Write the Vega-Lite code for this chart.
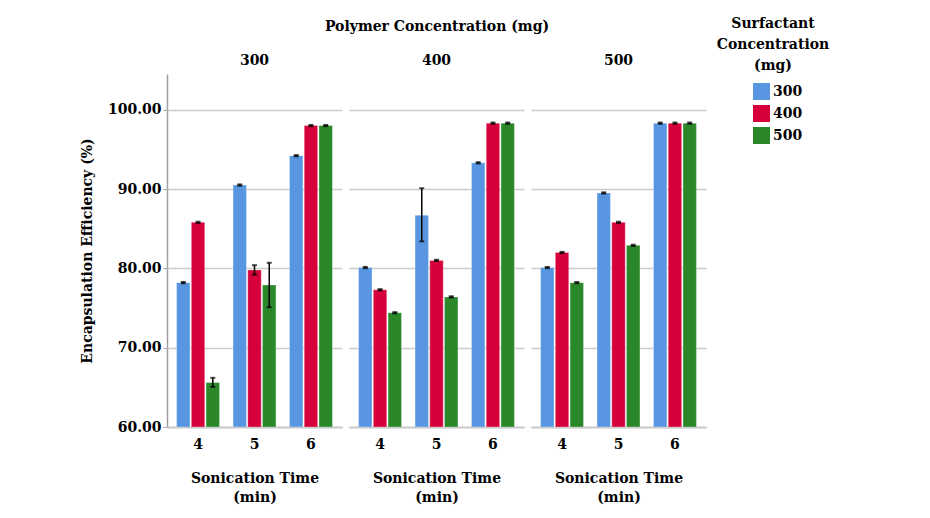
{
  "$schema": "https://vega.github.io/schema/vega-lite/v6.json",
  "padding": {"left": 80, "top": 17, "right": 5, "bottom": 5},
  "background": "white",
  "data": {
    "values": [
      {"polymer": "300", "time": "4", "surfactant": "300", "value": 78.2, "lo": 78.12, "hi": 78.28},
      {"polymer": "300", "time": "4", "surfactant": "400", "value": 85.8, "lo": 85.72, "hi": 85.88},
      {"polymer": "300", "time": "4", "surfactant": "500", "value": 65.6, "lo": 65.05, "hi": 66.2},
      {"polymer": "300", "time": "5", "surfactant": "300", "value": 90.5, "lo": 90.42, "hi": 90.58},
      {"polymer": "300", "time": "5", "surfactant": "400", "value": 79.8, "lo": 79.2, "hi": 80.4},
      {"polymer": "300", "time": "5", "surfactant": "500", "value": 77.9, "lo": 75.1, "hi": 80.7},
      {"polymer": "300", "time": "6", "surfactant": "300", "value": 94.2, "lo": 94.12, "hi": 94.28},
      {"polymer": "300", "time": "6", "surfactant": "400", "value": 98.0, "lo": 97.92, "hi": 98.08},
      {"polymer": "300", "time": "6", "surfactant": "500", "value": 98.0, "lo": 97.92, "hi": 98.08},
      {"polymer": "400", "time": "4", "surfactant": "300", "value": 80.1, "lo": 80.02, "hi": 80.18},
      {"polymer": "400", "time": "4", "surfactant": "400", "value": 77.3, "lo": 77.22, "hi": 77.38},
      {"polymer": "400", "time": "4", "surfactant": "500", "value": 74.4, "lo": 74.32, "hi": 74.48},
      {"polymer": "400", "time": "5", "surfactant": "300", "value": 86.7, "lo": 83.4, "hi": 90.1},
      {"polymer": "400", "time": "5", "surfactant": "400", "value": 81.0, "lo": 80.92, "hi": 81.08},
      {"polymer": "400", "time": "5", "surfactant": "500", "value": 76.4, "lo": 76.32, "hi": 76.48},
      {"polymer": "400", "time": "6", "surfactant": "300", "value": 93.3, "lo": 93.22, "hi": 93.38},
      {"polymer": "400", "time": "6", "surfactant": "400", "value": 98.3, "lo": 98.22, "hi": 98.38},
      {"polymer": "400", "time": "6", "surfactant": "500", "value": 98.3, "lo": 98.22, "hi": 98.38},
      {"polymer": "500", "time": "4", "surfactant": "300", "value": 80.1, "lo": 80.02, "hi": 80.18},
      {"polymer": "500", "time": "4", "surfactant": "400", "value": 82.0, "lo": 81.92, "hi": 82.08},
      {"polymer": "500", "time": "4", "surfactant": "500", "value": 78.2, "lo": 78.12, "hi": 78.28},
      {"polymer": "500", "time": "5", "surfactant": "300", "value": 89.5, "lo": 89.42, "hi": 89.58},
      {"polymer": "500", "time": "5", "surfactant": "400", "value": 85.8, "lo": 85.72, "hi": 85.88},
      {"polymer": "500", "time": "5", "surfactant": "500", "value": 82.9, "lo": 82.82, "hi": 82.98},
      {"polymer": "500", "time": "6", "surfactant": "300", "value": 98.3, "lo": 98.22, "hi": 98.38},
      {"polymer": "500", "time": "6", "surfactant": "400", "value": 98.3, "lo": 98.22, "hi": 98.38},
      {"polymer": "500", "time": "6", "surfactant": "500", "value": 98.3, "lo": 98.22, "hi": 98.38}
    ]
  },
  "facet": {
    "column": {
      "field": "polymer",
      "type": "ordinal",
      "title": "Polymer Concentration (mg)",
      "header": {
        "titleFont": "DejaVu Serif",
        "titleFontWeight": "bold",
        "titleFontSize": 14,
        "titleColor": "black",
        "titlePadding": 10,
        "labelFont": "DejaVu Serif",
        "labelFontWeight": "bold",
        "labelFontSize": 14,
        "labelColor": "black",
        "labelPadding": 6
      }
    }
  },
  "spacing": 7,
  "spec": {
    "width": 175,
    "height": 353,
    "encoding": {
      "x": {
        "field": "time",
        "type": "nominal",
        "scale": {"paddingInner": 0.24, "paddingOuter": 0.17},
        "axis": {
          "title": ["Sonication Time", "(min)"],
          "titleFont": "DejaVu Serif",
          "titleFontWeight": "bold",
          "titleFontSize": 14,
          "titleColor": "black",
          "titleLineHeight": 19,
          "titlePadding": 20,
          "labelFont": "DejaVu Serif",
          "labelFontWeight": "bold",
          "labelFontSize": 14,
          "labelColor": "black",
          "labelAngle": 0,
          "labelPadding": 10,
          "ticks": false,
          "domainColor": "#a0a0a0",
          "domainWidth": 1.5
        }
      },
      "xOffset": {"field": "surfactant", "type": "nominal", "scale": {"paddingInner": 0.09}}
    },
    "layer": [
      {
        "mark": {"type": "bar", "stroke": "white", "strokeWidth": 0.5, "strokeOpacity": 0.6, "clip": true},
        "encoding": {
          "y": {
            "field": "value",
            "type": "quantitative",
            "scale": {"domain": [60, 104.5], "nice": false, "zero": false},
            "axis": {
              "title": "Encapsulation Efficiency (%)",
              "titleFont": "DejaVu Serif",
              "titleFontWeight": "bold",
              "titleFontSize": 14,
              "titleColor": "black",
              "titlePadding": 13,
              "values": [60, 70, 80, 90, 100],
              "format": ".2f",
              "labelFont": "DejaVu Serif",
              "labelFontWeight": "bold",
              "labelFontSize": 14,
              "labelColor": "black",
              "labelPadding": 2,
              "tickSize": 4,
              "tickColor": "#a0a0a0",
              "domainColor": "#a0a0a0",
              "domainWidth": 1.5,
              "gridColor": "#cccccc",
              "gridWidth": 1.5
            }
          },
          "y2": {"datum": 60},
          "color": {
            "field": "surfactant",
            "type": "nominal",
            "scale": {"domain": ["300", "400", "500"], "range": ["#5896e2", "#d6003a", "#2a872a"]},
            "legend": {
              "orient": "none",
              "legendX": 550,
              "legendY": -57,
              "title": ["Surfactant", "Concentration", "(mg)"],
              "titleFont": "DejaVu Serif",
              "titleFontWeight": "bold",
              "titleFontSize": 14,
              "titleColor": "black",
              "titleAlign": "center",
              "titleAnchor": "middle",
              "titleLineHeight": 21,
              "titlePadding": 10,
              "labelFont": "DejaVu Serif",
              "labelFontWeight": "bold",
              "labelFontSize": 14,
              "labelColor": "black",
              "labelOffset": 3,
              "symbolType": "square",
              "symbolSize": 289,
              "symbolStrokeWidth": 0,
              "symbolOpacity": 1,
              "symbolOffset": 9,
              "rowPadding": 5
            }
          }
        }
      },
      {
        "mark": {"type": "rule", "color": "black", "strokeWidth": 1.5},
        "encoding": {
          "y": {"field": "lo", "type": "quantitative"},
          "y2": {"field": "hi"}
        }
      },
      {
        "mark": {"type": "tick", "color": "black", "orient": "horizontal", "size": 5, "thickness": 2},
        "encoding": {
          "y": {"field": "lo", "type": "quantitative"}
        }
      },
      {
        "mark": {"type": "tick", "color": "black", "orient": "horizontal", "size": 5, "thickness": 2},
        "encoding": {
          "y": {"field": "hi", "type": "quantitative"}
        }
      }
    ]
  },
  "config": {
    "view": {"stroke": null},
    "axis": {"gridColor": "#cccccc"},
    "axisX": {"grid": false}
  }
}
